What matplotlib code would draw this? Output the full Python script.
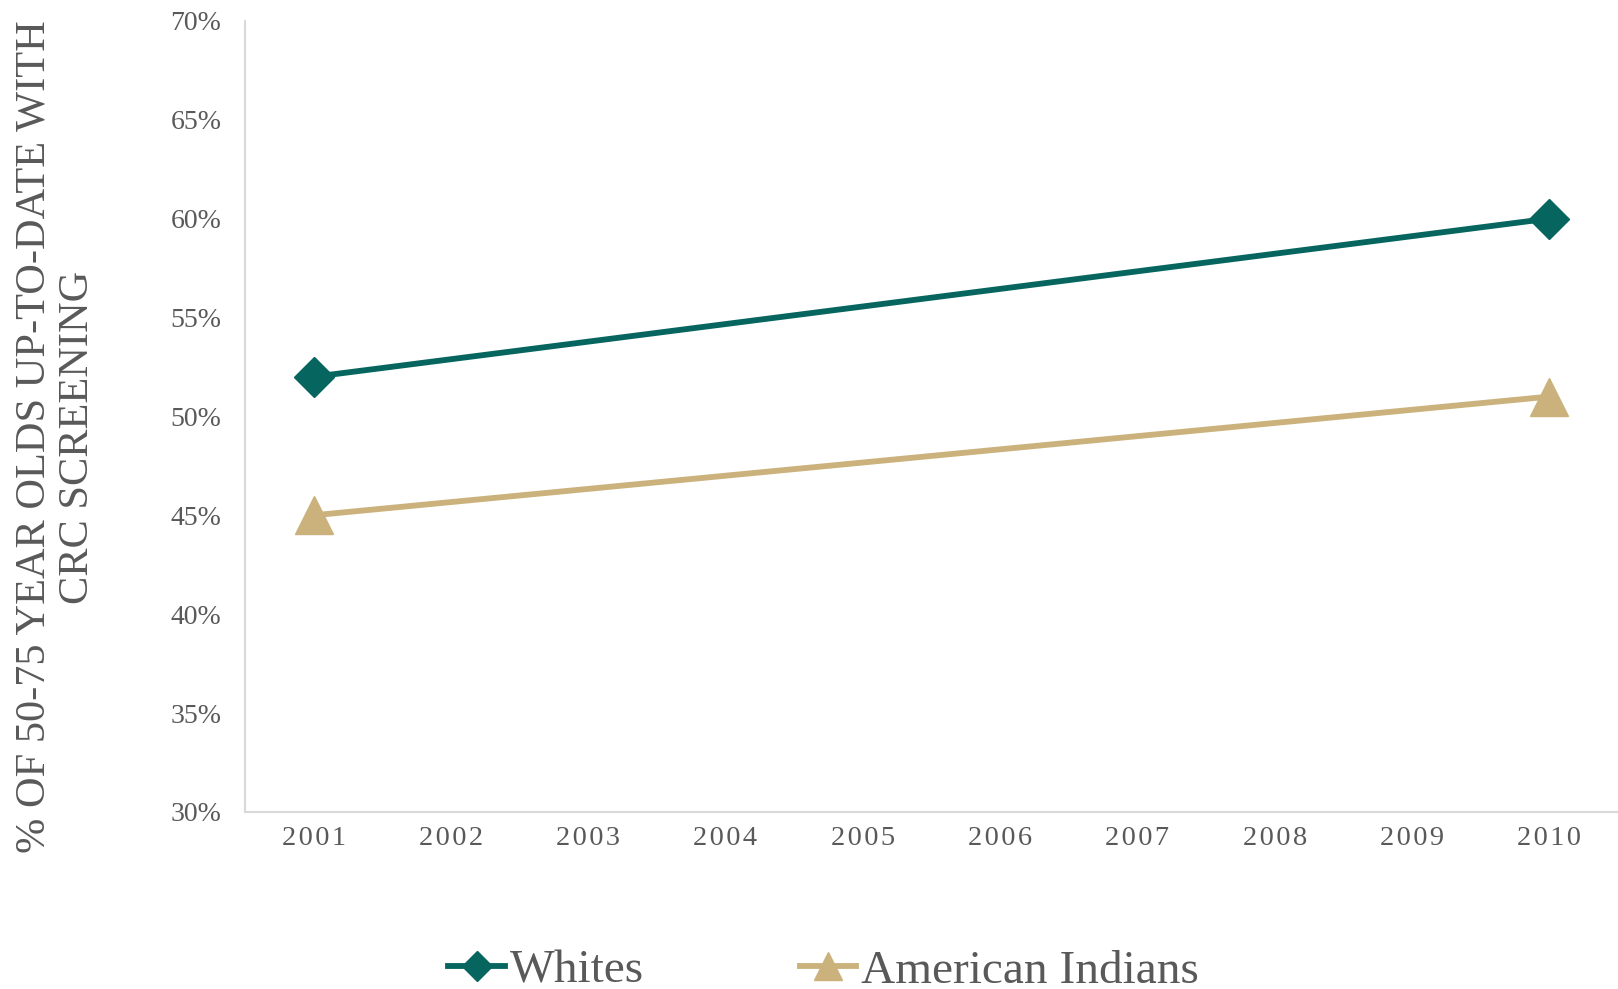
import numpy as np
import matplotlib.pyplot as plt

plt.rcParams['font.family'] = ['Liberation Serif', 'DejaVu Serif']

years = list(range(2001, 2011))
point_years = [2001, 2010]
whites = [52, 60]
american_indians = [45, 51]
y_ticks = [30, 35, 40, 45, 50, 55, 60, 65, 70]

teal = '#06665F'
tan = '#CBB27C'
grey_text = '#595959'

fig = plt.figure(figsize=(16.18, 9.89), dpi=100)
ax = fig.add_axes([0.1514, 0.179, 0.8486, 0.8])

ax.plot(point_years, whites, color=teal, lw=4.2, marker='D', ms=20,
        label='Whites', clip_on=False, zorder=3)
ax.plot(point_years, american_indians, color=tan, lw=4.2, marker='^', ms=27,
        label='American Indians', clip_on=False, zorder=3)

ax.set_xlim(2000.5, 2010.5)
ax.set_ylim(30, 70)
ax.set_xticks(years)
# spaced-out digits, like the original's letter spacing
ax.set_xticklabels(['\u200a'.join(str(y)) for y in years])
ax.set_yticks(y_ticks)
ax.set_yticklabels([f'{v}%' for v in y_ticks])
ax.tick_params(axis='y', length=0, pad=17, labelsize=20, labelcolor=grey_text)
ax.tick_params(axis='x', length=0, pad=10, labelsize=20.5, labelcolor=grey_text)

for side in ['top', 'right']:
    ax.spines[side].set_visible(False)
for side in ['left', 'bottom']:
    ax.spines[side].set_color('#D9D9D9')
    ax.spines[side].set_linewidth(1.5)

fig.text(56 / 1618, 1 - 437 / 989,
         '% OF 50-75 YEAR OLDS UP-TO-DATE WITH\nCRC SCREENING',
         rotation=90, ha='center', va='center', multialignment='center',
         fontsize=30.5, color=grey_text, linespacing=1.15)

fig.legend(loc='lower center', bbox_to_anchor=(0.509, -0.047), ncol=2,
           frameon=False, fontsize=34, labelcolor=grey_text,
           handlelength=1.2, handletextpad=0.1, columnspacing=3.3,
           markerscale=0.75)

fig.savefig('out.png', dpi=100)
